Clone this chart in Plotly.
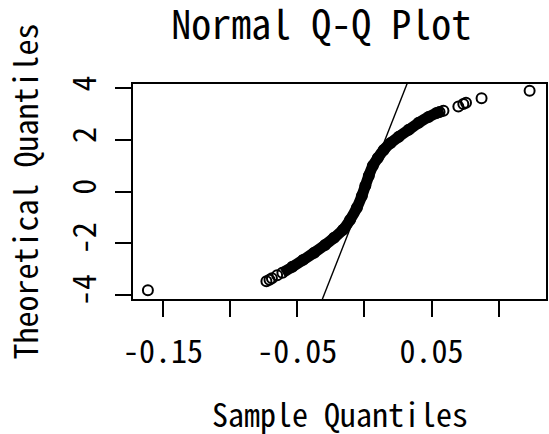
import plotly.graph_objects as go

# Values
# dense central band of the Q-Q plot (sample quantile, theoretical quantile)
sample_core = [-0.0611, -0.0537, -0.0456, -0.0374, -0.0293, -0.0226, -0.0159, -0.0107,
               -0.0056, -0.0019, 0.0007, 0.0033, 0.0063, 0.0100, 0.0144, 0.0196,
               0.0256, 0.0330, 0.0404, 0.0478, 0.0537, 0.0589]
theo_core = [-3.15, -2.92, -2.65, -2.37, -2.07, -1.79, -1.48, -1.10,
             -0.63, -0.17, 0.22, 0.61, 1.00, 1.30, 1.61, 1.88,
             2.12, 2.39, 2.66, 2.89, 3.04, 3.13]
# sparse tail points
sample_tail = [-0.1613, -0.0730, -0.0707, -0.0689, -0.0650, 0.0560, 0.0700, 0.0737, 0.0757, 0.0873, 0.1231]
theo_tail = [-3.83, -3.48, -3.42, -3.36, -3.25, 3.08, 3.29, 3.39, 3.44, 3.61, 3.90]
# reference line: sample = intercept + slope * theoretical
qq_intercept = 0.00022
qq_slope = 0.00756

x_ticks = [-0.15, -0.10, -0.05, 0.00, 0.05, 0.10]
x_tick_text = ["-0.15", "", "-0.05", "", "0.05", ""]
y_ticks = [-4, -2, 0, 2, 4]
y_tick_text = ["-4", "-2", "0", "2", "4"]

FONT = "Noto Sans Mono CJK JP, Noto Sans Mono CJK SC, Liberation Mono, monospace"

fig = go.Figure()
fig.add_trace(go.Scatter(x=sample_core, y=theo_core, mode="lines",
                         line=dict(color="black", width=11, shape="spline"),
                         hoverinfo="skip"))
fig.add_trace(go.Scatter(x=sample_core, y=theo_core, mode="markers",
                         marker=dict(symbol="circle-open", size=10, color="black",
                                     line=dict(width=2))))
fig.add_trace(go.Scatter(x=sample_tail, y=theo_tail, mode="markers",
                         marker=dict(symbol="circle-open", size=10, color="black",
                                     line=dict(width=2))))
line_y = [-6, 6]
line_x = [qq_intercept + qq_slope * v for v in line_y]
fig.add_trace(go.Scatter(x=line_x, y=line_y, mode="lines",
                         line=dict(color="black", width=1.4), hoverinfo="skip"))

fig.update_layout(
    width=549, height=434,
    margin=dict(l=133, r=1, t=84, b=135),
    paper_bgcolor="white", plot_bgcolor="white",
    showlegend=False,
    font=dict(family=FONT, color="black", size=32),
    title=dict(text="Normal Q-Q Plot", x=0.585, xanchor="center",
               y=0.943, yanchor="middle", font=dict(size=40, family=FONT)),
)
fig.update_xaxes(range=[-0.1724, 0.1353], tickvals=x_ticks, ticktext=x_tick_text,
                 ticks="outside", ticklen=16, tickwidth=1.5, tickcolor="black",
                 ticklabelstandoff=8,
                 showline=True, linecolor="black", linewidth=1.5, mirror=True,
                 showgrid=False, zeroline=False,
                 tickfont=dict(size=32, family=FONT))
fig.update_yaxes(range=[-4.166, 4.166], tickvals=y_ticks, ticktext=y_tick_text,
                 ticks="outside", ticklen=16, tickwidth=1.5, tickcolor="black",
                 tickangle=-90, ticklabelstandoff=6,
                 showline=True, linecolor="black", linewidth=1.5, mirror=True,
                 showgrid=False, zeroline=False,
                 tickfont=dict(size=32, family=FONT))
fig.add_annotation(text="Sample Quantiles", xref="paper", yref="paper",
                   x=0.5, y=0, yshift=-89, xanchor="center", yanchor="top",
                   showarrow=False, font=dict(size=32, family=FONT))
fig.add_annotation(text="Theoretical Quantiles", xref="paper", yref="paper",
                   x=0, xshift=-110, y=0.5, xanchor="center", yanchor="middle",
                   textangle=-90,
                   showarrow=False, font=dict(size=32, family=FONT))

fig.write_html("out.html")
